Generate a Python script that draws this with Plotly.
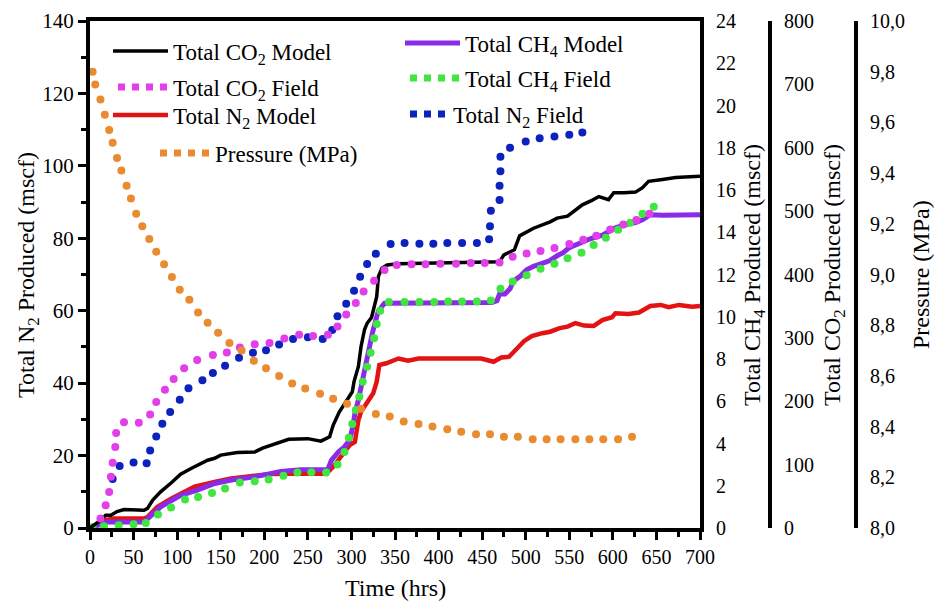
import plotly.graph_objects as go

# ---------------- data ----------------
# Pressure (MPa) field, right-most axis
p_t = [3, 6, 12, 17, 22, 26, 31, 36, 42, 47, 53, 60, 68, 76, 85, 94, 103, 114, 124, 135,
       147, 160, 174, 188, 202, 217, 232, 247, 264, 279, 295, 311, 328, 344, 360, 377, 393, 410, 426, 443,
       459, 475, 491, 508, 524, 540, 557, 573, 589, 606, 622]
p_v = [9.80, 9.75, 9.69, 9.63, 9.57, 9.52, 9.46, 9.41, 9.35, 9.30, 9.24, 9.19, 9.14, 9.09, 9.04, 8.99, 8.94, 8.90, 8.85, 8.81,
       8.77, 8.73, 8.70, 8.66, 8.63, 8.60, 8.57, 8.55, 8.53, 8.51, 8.49, 8.47, 8.45, 8.44, 8.42, 8.41, 8.40, 8.39, 8.38, 8.37,
       8.37, 8.36, 8.36, 8.35, 8.35, 8.35, 8.35, 8.35, 8.35, 8.35, 8.36]

# Total N2 field (left axis)
n2f_t = [26, 34, 50, 65, 69, 76, 83, 92, 103, 113, 129, 141, 155, 171, 187, 202, 217, 233, 250, 267,
         278, 284, 294, 303, 310, 318, 328, 345, 361, 378, 394, 410, 427, 444, 458, 459, 460, 470, 470, 471,
         471, 482, 500, 516, 533, 550, 565]
n2f_v = [13.5, 17.1, 18.1, 17.9, 21.4, 25.3, 28.8, 32.0, 35.4, 38.6, 40.8, 42.8, 44.8, 47.0, 48.4, 49.1, 50.7, 52.2, 52.7, 52.2,
         54.7, 58.5, 61.9, 65.5, 69.4, 72.9, 75.7, 78.4, 78.7, 78.5, 78.5, 78.7, 78.7, 78.7, 79.7, 83.3, 87.6, 90.6, 94.5, 98.5,
         102.5, 105.0, 106.7, 107.6, 108.1, 108.6, 109.2]

# Total CO2 field (CO2 axis)
co2f_t = [12, 18, 22, 24, 26, 29, 30, 39, 56, 69, 76, 86, 96, 108, 123, 141, 157, 172, 189, 206,
          223, 240, 256, 273, 284, 294, 305, 314, 326, 338, 352, 369, 385, 402, 420, 437, 453, 470, 485, 501,
          517, 533, 550, 566, 581, 597, 612, 627, 642]
co2f_v = [15, 36, 57, 81, 103, 128, 150, 167, 166, 179, 199, 218, 235, 252, 265, 273, 277, 285, 290, 292,
          299, 305, 303, 305, 318, 337, 355, 373, 390, 407, 415, 416, 416, 417, 417, 418, 418, 419, 428, 433,
          437, 442, 448, 455, 461, 471, 479, 486, 496]

# Total CH4 field (CH4 axis)
ch4f_t = [3, 16, 33, 50, 64, 78, 93, 109, 124, 140, 155, 172, 189, 205, 222, 238, 254, 271, 284, 292,
          297, 301, 305, 309, 313, 318, 322, 326, 329, 333, 343, 361, 378, 395, 411, 427, 444, 460, 471, 485,
          501, 517, 533, 548, 564, 578, 592, 606, 620, 634, 647]
ch4f_v = [0.05, 0.08, 0.13, 0.18, 0.24, 0.64, 0.97, 1.35, 1.47, 1.66, 1.87, 2.15, 2.21, 2.29, 2.47, 2.63, 2.64, 2.63, 3.01, 3.60,
          4.27, 4.92, 5.58, 6.21, 6.92, 7.63, 8.30, 8.98, 9.66, 10.28, 10.70, 10.70, 10.70, 10.70, 10.72, 10.72, 10.72, 10.77, 11.32, 11.67,
          11.96, 12.27, 12.51, 12.77, 13.03, 13.40, 13.74, 14.12, 14.45, 14.87, 15.21]

# Total CO2 model (CO2 axis)
co2m_t = [0, 12, 18, 24, 31, 39, 62, 66, 72, 81, 93, 104, 116, 127, 135, 143, 150, 169, 189, 198,
          212, 228, 250, 265, 275, 279, 286, 297, 301, 303, 308, 311, 313, 315, 318, 323, 329, 331, 335, 341,
          354, 411, 470, 475, 487, 493, 509, 528, 536, 548, 557, 565, 576, 584, 595, 601, 613, 626, 634, 641,
          657, 672, 700]
co2m_v = [0, 12, 20, 20, 26, 29, 28, 31, 44, 57, 71, 85, 94, 102, 107, 110, 115, 119, 120, 126,
          132, 140, 141, 137, 144, 162, 183, 206, 215, 231, 255, 286, 302, 313, 323, 332, 365, 397, 410, 415,
          417, 418, 420, 431, 439, 461, 473, 483, 489, 492, 502, 510, 517, 523, 518, 529, 529, 530, 537, 547,
          550, 553, 555]

# Total N2 model (left axis)
n2m_t = [0, 16, 27, 62, 66, 77, 93, 104, 120, 143, 162, 189, 208, 227, 250, 271, 279, 288, 298, 304,
         306, 308, 311, 317, 325, 329, 332, 340, 354, 365, 377, 449, 463, 472, 481, 498, 507, 519, 528, 539,
         548, 557, 567, 578, 588, 599, 603, 618, 630, 643, 655, 664, 676, 691, 700]
n2m_v = [0, 2.1, 2.6, 2.6, 3.0, 5.8, 8.1, 9.5, 11.4, 12.7, 13.7, 14.4, 14.9, 15.0, 15.0, 15.0, 16.9, 19.6, 22.9, 23.8,
         27.0, 29.8, 32.1, 34.4, 37.2, 40.4, 45.0, 45.5, 46.8, 46.2, 46.8, 46.8, 45.9, 47.1, 47.3, 51.6, 53.0, 53.8, 54.2, 55.2,
         55.6, 56.6, 55.9, 55.8, 57.4, 58.2, 59.3, 59.1, 59.5, 61.3, 61.6, 61.0, 61.6, 61.1, 61.3]

# Total CH4 model (CH4 axis)
ch4m_t = [0, 20, 62, 68, 81, 104, 123, 143, 162, 189, 219, 242, 273, 277, 285, 292, 298, 302, 304, 308,
          311, 315, 320, 324, 329, 331, 338, 403, 461, 467, 470, 476, 482, 486, 494, 501, 509, 519, 527, 537,
          543, 550, 561, 574, 588, 603, 618, 626, 634, 643, 657, 700]
ch4m_v = [0, 0.28, 0.28, 0.52, 1.00, 1.55, 1.79, 2.11, 2.27, 2.42, 2.68, 2.76, 2.77, 3.21, 3.60, 3.84, 4.16, 4.87, 5.42, 6.06,
          6.69, 7.48, 8.43, 9.22, 10.00, 10.28, 10.64, 10.67, 10.67, 10.76, 11.08, 11.08, 11.32, 11.70, 11.93, 12.22, 12.39, 12.53, 12.65, 12.91,
          13.03, 13.27, 13.46, 13.69, 13.86, 14.21, 14.40, 14.46, 14.59, 14.83, 14.80, 14.83]

x_ticks = list(range(0, 701, 50))
n2_ticks = list(range(0, 141, 20))
ch4_ticks = list(range(0, 25, 2))
co2_ticks = list(range(0, 801, 100))
p_ticks = [8.0, 8.2, 8.4, 8.6, 8.8, 9.0, 9.2, 9.4, 9.6, 9.8, 10.0]
p_ticktext = ["8,0", "8,2", "8,4", "8,6", "8,8", "9,0", "9,2", "9,4", "9,6", "9,8", "10,0"]

# ---------------- styling ----------------
FONT = "'Liberation Serif', 'Times New Roman', 'DejaVu Serif', serif"
C_BLACK = "#000000"
C_MAG = "#E33FE8"
C_RED = "#E31313"
C_ORANGE = "#E98B2F"
C_PURPLE = "#8A2BE8"
C_GREEN = "#3FE63F"
C_BLUE = "#0B22BE"

W, H = 940, 601
ML, MR, MT, MB = 90, 10, 21, 73
PW = W - ML - MR
PH = H - MT - MB
X_RIGHT = 700
XEND = (X_RIGHT - ML) / PW
POS_CO2 = (770 - ML) / PW
POS_P = (856 - ML) / PW


def px_x(px):
    return (px - ML) / PW


def px_y(py):
    return (H - MB - py) / PH


fig = go.Figure()

# model lines
fig.add_trace(go.Scatter(x=co2m_t, y=co2m_v, yaxis="y3", mode="lines",
                         line=dict(color=C_BLACK, width=3.5), name="Total CO<sub>2</sub> Model",
                         legend="legend"))
fig.add_trace(go.Scatter(x=n2m_t, y=n2m_v, yaxis="y", mode="lines",
                         line=dict(color=C_RED, width=4.5), name="Total N<sub>2</sub> Model",
                         legend="legend3"))
fig.add_trace(go.Scatter(x=ch4m_t, y=ch4m_v, yaxis="y2", mode="lines",
                         line=dict(color=C_PURPLE, width=5), name="Total CH<sub>4</sub> Model",
                         legend="legend5"))

# field dots
MS = 8
fig.add_trace(go.Scatter(x=n2f_t, y=n2f_v, yaxis="y", mode="markers", cliponaxis=False,
                         marker=dict(color=C_BLUE, size=MS), showlegend=False))
fig.add_trace(go.Scatter(x=co2f_t, y=co2f_v, yaxis="y3", mode="markers", cliponaxis=False,
                         marker=dict(color=C_MAG, size=MS), showlegend=False))
fig.add_trace(go.Scatter(x=ch4f_t, y=ch4f_v, yaxis="y2", mode="markers", cliponaxis=False,
                         marker=dict(color=C_GREEN, size=MS), showlegend=False))
fig.add_trace(go.Scatter(x=p_t, y=p_v, yaxis="y4", mode="markers", cliponaxis=False,
                         marker=dict(color=C_ORANGE, size=MS), showlegend=False))

# legend entries for the dotted field series
for name, col, lg in [("Total CO<sub>2</sub> Field", C_MAG, "legend2"),
                      ("Pressure (MPa)", C_ORANGE, "legend4"),
                      ("Total CH<sub>4</sub> Field", C_GREEN, "legend6"),
                      ("Total N<sub>2</sub> Field", C_BLUE, "legend7")]:
    fig.add_trace(go.Scatter(x=[None], y=[None], mode="lines", name=name, legend=lg,
                             line=dict(color=col, width=7, dash="dot")))


def leg(text_x, cy, iw):
    return dict(x=px_x(text_x - iw - 12), y=px_y(cy), xref="paper", yref="paper",
                xanchor="left", yanchor="middle", bgcolor="rgba(0,0,0,0)", borderwidth=0,
                itemwidth=iw, font=dict(family=FONT, size=23, color="black"),
                tracegroupgap=0)


axis_common = dict(showgrid=False, zeroline=False, color="black",
                   linecolor="black", linewidth=4, showline=True, automargin=False)
tf_small = dict(family=FONT, size=20, color="black")
tf_left = dict(family=FONT, size=21, color="black")

fig.update_layout(
    width=W, height=H,
    margin=dict(l=ML, r=MR, t=MT, b=MB, pad=0, autoexpand=False),
    paper_bgcolor="white", plot_bgcolor="white",
    font=dict(family=FONT, size=20, color="black"),
    showlegend=True,
    legend=leg(175, 51, 55),
    legend2=leg(175, 87, 50),
    legend3=leg(175, 115, 55),
    legend4=leg(217, 153, 50),
    legend5=leg(467, 43, 55),
    legend6=leg(467, 78, 50),
    legend7=leg(455, 114, 38),
    xaxis=dict(domain=[0, XEND], range=[0, 700], tickvals=x_ticks, ticks="outside",
               ticklen=8, tickwidth=3, tickcolor="black", mirror=True, tickfont=tf_small,
               minor=dict(tickvals=list(range(25, 700, 50)), ticks="outside", ticklen=5,
                          tickwidth=3, tickcolor="black"),
               **axis_common),
    yaxis=dict(range=[0, 140], tickvals=n2_ticks, ticks="outside", ticklen=8, tickwidth=3,
               tickcolor="black", anchor="x", tickfont=tf_left,
               minor=dict(tickvals=list(range(10, 140, 20)), ticks="outside", ticklen=5,
                          tickwidth=3, tickcolor="black"),
               **axis_common),
    yaxis2=dict(range=[0, 24], tickvals=ch4_ticks, overlaying="y", side="right", anchor="x",
                ticks="", ticklabelstandoff=8, tickfont=tf_small, **axis_common),
    yaxis3=dict(range=[0, 800], tickvals=co2_ticks, overlaying="y", side="right", anchor="free",
                position=POS_CO2, ticks="", ticklabelstandoff=8, tickfont=tf_small, **axis_common),
    yaxis4=dict(range=[8, 10], tickvals=p_ticks, ticktext=p_ticktext, overlaying="y", side="right",
                anchor="free", position=POS_P, ticks="", ticklabelstandoff=8, tickfont=tf_small,
                **axis_common),
)

titles = [
    ("Total N<sub>2</sub> Produced (mscf)", 28, 275, -90),
    ("Total CH<sub>4</sub> Produced (mscf)", 754, 275, -90),
    ("Total CO<sub>2</sub> Produced (mscf)", 834, 275, -90),
    ("Pressure (MPa)", 921, 275, -90),
    ("Time (hrs)", (ML + X_RIGHT) / 2, 588, 0),
]
for text, x, y, ang in titles:
    fig.add_annotation(text=text, x=px_x(x), y=px_y(y), xref="paper", yref="paper",
                       showarrow=False, textangle=ang, xanchor="center", yanchor="middle",
                       font=dict(family=FONT, size=24, color="black"))

fig.write_html("out.html")
